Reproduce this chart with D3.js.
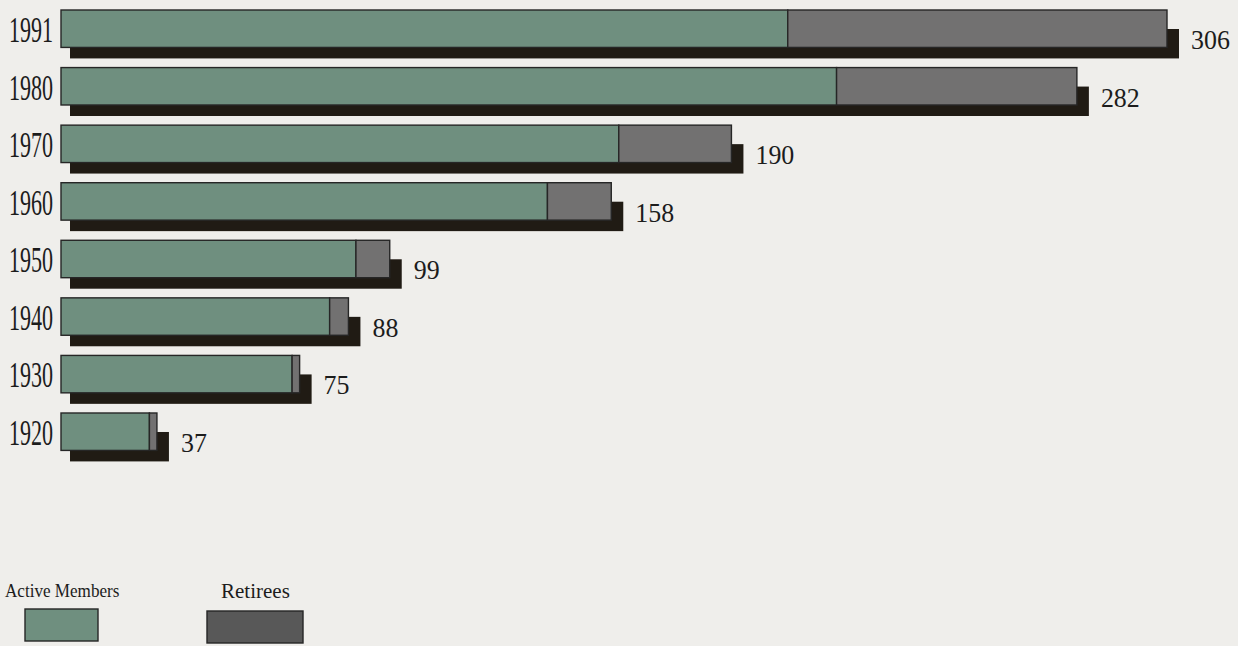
<!DOCTYPE html>
<html>
<head>
<meta charset="utf-8">
<script src="https://cdn.jsdelivr.net/npm/d3@7"></script>
<style>
  html, body { margin: 0; padding: 0; background: #efeeeb; }
  svg { display: block; }
  .year, .total, .legend-label { font-family: 'Liberation Serif', 'DejaVu Serif', serif; fill: #1c1c1c; }
</style>
</head>
<body>
<div class="artboard"></div>
<script>
// (thousands)
var years = ['1991', '1980', '1970', '1960', '1950', '1940', '1930', '1920'];
var activeMembers = [205, 218, 160, 141, 90, 83, 73, 35];
var retirees = [101, 64, 30, 17, 9, 5, 2, 2];
var totals = [306, 282, 190, 158, 99, 88, 75, 37];
var seriesNames = ['Active Members', 'Retirees'];

var colors = { active: '#6f8f7f', retirees: '#727171', shadow: '#201b14', stroke: '#262626' };

var width = 1238;
var height = 646;
var barLeft = 61;

var rows = years.map(function(y, idx) {
  return { year: y, active: activeMembers[idx], retirees: retirees[idx], total: totals[idx] };
});

var svg = d3.select('.artboard').append('svg')
  .attr('width', width)
  .attr('height', height);

// printed bars all start at barLeft, but the zero of the scale sits a bit left of it
var x = d3.scaleLinear()
  .domain([0, 306])
  .range([18, 1167]);

var step = 57.57;
var y = d3.scaleBand()
  .domain(years)
  .range([10, 10 + step * (years.length - 0.35)])
  .paddingInner(0.35)
  .paddingOuter(0);

var bh = y.bandwidth();

var row = svg.selectAll('g.row')
  .data(rows)
  .enter().append('g')
  .attr('class', 'row');

// drop shadow
row.append('rect')
  .attr('x', barLeft + 9)
  .attr('y', function(d) { return y(d.year) + 19; })
  .attr('width', function(d) { return x(d.total) + 12 - barLeft - 9; })
  .attr('height', bh - 8)
  .attr('fill', colors.shadow);

row.append('rect')
  .attr('x', barLeft)
  .attr('y', function(d) { return y(d.year); })
  .attr('width', function(d) { return x(d.active) - barLeft; })
  .attr('height', bh)
  .attr('fill', colors.active)
  .attr('stroke', colors.stroke)
  .attr('stroke-width', 1.4);

row.append('rect')
  .attr('x', function(d) { return x(d.active); })
  .attr('y', function(d) { return y(d.year); })
  .attr('width', function(d) { return x(d.total) - x(d.active); })
  .attr('height', bh)
  .attr('fill', colors.retirees)
  .attr('stroke', colors.stroke)
  .attr('stroke-width', 1.4);

row.append('text')
  .attr('class', 'year')
  .attr('transform', function(d) { return 'translate(53,' + (y(d.year) + 32) + ') scale(0.63,1)'; })
  .attr('text-anchor', 'end')
  .style('font-size', '35px')
  .text(function(d) { return d.year; });

row.append('text')
  .attr('class', 'total')
  .attr('transform', function(d) { return 'translate(' + (x(d.total) + 24) + ',' + (y(d.year) + 39) + ') scale(0.96,1)'; })
  .style('font-size', '27px')
  .text(function(d) { return d.total; });

// legend
var legend = [
  { name: seriesNames[0], tx: 5, ty: 597, size: 19, sx: 0.9, box: [25, 609, 73, 32], fill: colors.active },
  { name: seriesNames[1], tx: 221, ty: 598, size: 21, sx: 1, box: [207, 611, 96, 32], fill: '#585858' }
];

legend.forEach(function(l) {
  svg.append('text')
    .attr('class', 'legend-label')
    .attr('transform', 'translate(' + l.tx + ',' + l.ty + ') scale(' + l.sx + ',1)')
    .style('font-size', l.size + 'px')
    .text(l.name);
  svg.append('rect')
    .attr('x', l.box[0])
    .attr('y', l.box[1])
    .attr('width', l.box[2])
    .attr('height', l.box[3])
    .attr('fill', l.fill)
    .attr('stroke', colors.stroke)
    .attr('stroke-width', 1.4);
});
</script>
</body>
</html>
